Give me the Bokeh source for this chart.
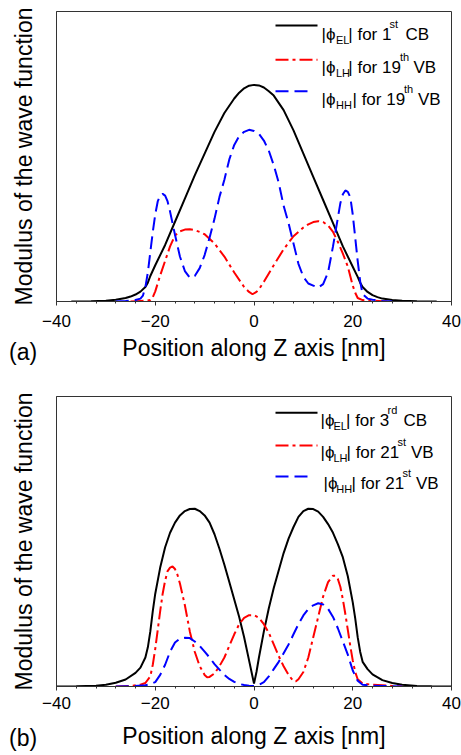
from bokeh.plotting import figure
from bokeh.models import Range1d, FixedTicker, Label, Arrow, Title
from bokeh.layouts import column
from bokeh.embed import file_html
from bokeh.resources import INLINE

# ---------------- data ----------------
x_label = "Position along Z axis [nm]"
y_label = "Modulus of the wave function"
x_ticks = [-40, -20, 0, 20, 40]
panel_tags = ["(a)", "(b)"]

# panel (a): 1st CB electron, 19th VB light/heavy hole
a_el_x = [-37, -36, -33, -30, -28, -26, -25, -24, -23, -22, -21.5, -21, -20, -18, -16, -14, -12, -10, -8, -6, -4, -3, -2, -1, 0,
          1, 2, 3, 4, 6, 8, 10, 12, 14, 16, 18, 20, 21, 21.5, 22, 23, 24, 25, 26, 28, 30, 33, 37]
a_el_y = [0, 0, 0.001, 0.003, 0.006, 0.012, 0.017, 0.024, 0.034, 0.05, 0.065, 0.088, 0.125, 0.195, 0.275, 0.355, 0.435, 0.51,
          0.585, 0.65, 0.70, 0.72, 0.735, 0.744, 0.747, 0.745, 0.738, 0.725, 0.71, 0.66, 0.59, 0.51, 0.43, 0.35, 0.27, 0.19,
          0.12, 0.085, 0.065, 0.05, 0.033, 0.022, 0.015, 0.01, 0.005, 0.003, 0.001, 0]

a_lh_x = [-25, -23, -22, -21, -20.5, -20, -19, -18, -17, -16, -15, -14, -13, -12, -11, -10, -8, -6, -4, -2, -1, -0.3, 0.5,
          1, 2, 4, 6, 8, 10, 11, 12, 13, 14, 15, 16, 17, 18, 19, 20, 20.5, 21, 22, 24, 26, 27]
a_lh_y = [0, 0.002, 0.003, 0.005, 0.015, 0.035, 0.09, 0.14, 0.19, 0.228, 0.242, 0.248, 0.249, 0.246, 0.24, 0.232, 0.2, 0.155,
          0.1, 0.05, 0.033, 0.025, 0.033, 0.042, 0.068, 0.125, 0.18, 0.225, 0.255, 0.266, 0.274, 0.277, 0.274, 0.262, 0.24,
          0.205, 0.165, 0.12, 0.055, 0.03, 0.012, 0.005, 0.003, 0.001, 0]

a_hh_x = [-28, -26, -24, -23, -22.5, -22, -21.5, -21, -20.5, -20, -19.5, -19, -18.5, -18, -17.5, -17, -16.5, -16, -15, -14,
          -13, -12, -11, -10, -9, -8, -7, -6, -5, -4, -3, -2, -1, 0, 1, 2, 3, 4, 5, 6, 7, 8, 9, 10, 11, 12, 13, 14, 15, 16,
          16.5, 17, 17.5, 18, 18.5, 19, 19.5, 20, 20.5, 21, 21.5, 22, 23, 24, 26, 28]
a_hh_y = [0, 0.002, 0.005, 0.01, 0.02, 0.05, 0.1, 0.17, 0.24, 0.3, 0.345, 0.365, 0.371, 0.365, 0.345, 0.31, 0.27, 0.23, 0.155,
          0.105, 0.082, 0.088, 0.115, 0.16, 0.22, 0.285, 0.36, 0.42, 0.49, 0.54, 0.57, 0.585, 0.592, 0.588, 0.578, 0.555,
          0.52, 0.47, 0.41, 0.33, 0.27, 0.2, 0.13, 0.085, 0.062, 0.055, 0.048, 0.06, 0.1, 0.19, 0.24, 0.29, 0.34, 0.37,
          0.383, 0.378, 0.36, 0.3, 0.22, 0.14, 0.07, 0.025, 0.01, 0.006, 0.002, 0]

# panel (b): 3rd CB electron, 21st VB light/heavy hole
b_el_x = [-40, -36, -32, -30, -28, -26, -24, -23, -22, -21.5, -21, -20.5, -20, -19, -18, -17, -16, -15, -14, -13, -12, -11,
          -10, -9, -8, -7, -6, -5, -4, -3, -2, -1, -0.5, 0, 0.5, 1, 2, 3, 4, 5, 6, 7, 8, 9, 10, 11, 12, 13, 14, 15, 16, 17,
          18, 19, 20, 20.5, 21, 21.5, 22, 23, 24, 26, 28, 30, 33, 36, 40]
b_el_y = [0, 0.001, 0.003, 0.006, 0.013, 0.024, 0.047, 0.065, 0.1, 0.135, 0.19, 0.26, 0.32, 0.41, 0.48, 0.53, 0.565, 0.59,
          0.605, 0.612, 0.613, 0.605, 0.59, 0.565, 0.525, 0.475, 0.42, 0.36, 0.3, 0.24, 0.17, 0.09, 0.05, 0.01, 0.05, 0.1,
          0.19, 0.27, 0.34, 0.40, 0.46, 0.51, 0.55, 0.585, 0.605, 0.613, 0.612, 0.603, 0.585, 0.56, 0.53, 0.49, 0.445, 0.38,
          0.29, 0.235, 0.17, 0.12, 0.085, 0.06, 0.042, 0.022, 0.012, 0.006, 0.002, 0.001, 0]

b_lh_x = [-28, -25, -23, -22, -21, -20.5, -20, -19.5, -19, -18.5, -18, -17.5, -17, -16.5, -16, -15.5, -15, -14, -13, -12,
          -11, -10, -9.5, -9, -8, -7, -6, -5, -4, -3, -2, -1, 0, 1, 2, 3, 4, 5, 6, 7, 8, 8.5, 9, 10, 11, 12, 13, 14, 15, 16,
          16.5, 17, 17.5, 18, 18.5, 19, 19.5, 20, 20.5, 21, 22, 24, 26, 28, 30]
b_lh_y = [0, 0.002, 0.006, 0.012, 0.035, 0.075, 0.13, 0.195, 0.26, 0.32, 0.365, 0.398, 0.41, 0.414, 0.405, 0.385, 0.355,
          0.28, 0.19, 0.12, 0.07, 0.04, 0.032, 0.033, 0.045, 0.07, 0.1, 0.14, 0.18, 0.215, 0.237, 0.246, 0.246, 0.237,
          0.215, 0.185, 0.145, 0.105, 0.07, 0.04, 0.018, 0.018, 0.025, 0.05, 0.1, 0.17, 0.24, 0.31, 0.36, 0.382, 0.382,
          0.37, 0.343, 0.3, 0.25, 0.195, 0.14, 0.09, 0.05, 0.025, 0.01, 0.006, 0.004, 0.002, 0]

b_hh_x = [-28, -25, -22, -21, -20, -19, -18, -17, -16, -15, -14, -13, -12, -11, -10, -9, -8, -7, -6, -5, -4, -3, -2, -1, 0,
          1, 2, 3, 4, 5, 6, 7, 8, 9, 10, 11, 12, 13, 14, 15, 16, 17, 18, 19, 20, 21, 22, 24, 26, 28, 30]
b_hh_y = [0, 0.001, 0.004, 0.008, 0.015, 0.04, 0.075, 0.12, 0.152, 0.165, 0.168, 0.167, 0.155, 0.14, 0.12, 0.1, 0.077,
          0.058, 0.04, 0.026, 0.016, 0.009, 0.005, 0.003, 0.002, 0.006, 0.015, 0.035, 0.06, 0.085, 0.115, 0.145, 0.18,
          0.215, 0.245, 0.267, 0.28, 0.287, 0.283, 0.268, 0.24, 0.2, 0.155, 0.11, 0.055, 0.02, 0.006, 0.003, 0.002, 0.001, 0]

# legend texts: [prefix, subscript, middle, superscript, suffix]
legend_a = [["|\u03d5", "EL", "| for 1", "st", "CB"],
            ["|\u03d5", "LH", "| for 19", "th", "VB"],
            ["|\u03d5", "HH", "| for 19", "th", "VB"]]
legend_b = [["|\u03d5", "EL", "| for 3", "rd", "CB"],
            ["|\u03d5", "LH", "| for 21", "st", "VB"],
            ["|\u03d5", "HH", "| for 21", "st", "VB"]]

# ---------------- styling / layout ----------------
FONT = "Liberation Sans"
STYLES = [dict(line_color="black", line_dash="solid"),
          dict(line_color="#ff0000", line_dash="13 4 3 4"),
          dict(line_color="#0000ff", line_dash="13 6")]
FRAME_LEFT = 56  # page x of frame left edge
W = 461


def make_panel(series, legend, tag, height, top, bottom, tick_standoff, label_standoff, tag_standoff,
               piece_x, base_dy, line_dy):
    p = figure(width=W, height=height, output_backend="svg", toolbar_location=None,
               x_range=Range1d(-40, 40), y_range=Range1d(0, 1),
               min_border_left=FRAME_LEFT, min_border_right=10, min_border_top=top, min_border_bottom=bottom)
    frame_h = height - top - bottom
    p.grid.visible = False
    p.outline_line_color = "#333333"
    p.outline_line_width = 1
    p.background_fill_color = "white"
    p.border_fill_color = "white"

    for (xs, ys), st in zip(series, STYLES):
        p.line(xs, ys, line_width=2, **st)

    xa = p.xaxis[0]
    xa.ticker = FixedTicker(ticks=x_ticks, minor_ticks=list(range(-40, 41, 4)))
    xa.axis_label = x_label
    xa.axis_label_text_font = FONT
    xa.axis_label_text_font_style = "normal"
    xa.axis_label_text_font_size = "23px"
    xa.axis_label_text_color = "black"
    xa.axis_label_standoff = label_standoff
    xa.major_label_text_font = FONT
    xa.major_label_text_font_size = "17px"
    xa.major_label_text_color = "black"
    xa.major_label_standoff = tick_standoff
    xa.major_tick_out = 4
    xa.major_tick_in = 0
    xa.minor_tick_out = 2
    xa.minor_tick_in = 0
    xa.axis_line_color = "#333333"
    xa.major_tick_line_color = "#333333"
    xa.minor_tick_line_color = "#333333"

    ya = p.yaxis[0]
    ya.ticker = FixedTicker(ticks=[])
    ya.axis_label = y_label
    ya.axis_label_text_font = FONT
    ya.axis_label_text_font_style = "normal"
    ya.axis_label_text_font_size = "23px"
    ya.axis_label_text_color = "black"
    ya.axis_label_standoff = 20
    ya.major_tick_out = 0
    ya.major_tick_in = 0
    ya.minor_tick_out = 0
    ya.minor_tick_in = 0
    ya.major_label_standoff = 0
    ya.axis_line_color = "#333333"

    # legend (manual, for sub/superscripts)
    offs = [0, -5, 0, 10.5, 0]
    sizes = ["17px", "11px", "17px", "11px", "17px"]
    for i, (pieces, st) in enumerate(zip(legend, STYLES)):
        ly = frame_h - line_dy[i]
        x_end = 255 if i == 2 else 261
        p.add_layout(Arrow(end=None, x_start=219, y_start=ly, x_end=x_end, y_end=ly,
                           start_units="screen", end_units="screen", line_width=2, **st))
        by = frame_h - base_dy[i]
        for j, txt in enumerate(pieces):
            p.add_layout(Label(x=piece_x[i][j] - FRAME_LEFT, y=by + offs[j],
                               x_units="screen", y_units="screen", text=txt,
                               text_font=FONT, text_font_size=sizes[j], text_color="black",
                               text_baseline="alphabetic", text_align="left"))

    # panel tag on the same row as the x axis label
    p.add_layout(Title(text=tag, align="left", vertical_align="top", offset=-47.5, standoff=tag_standoff,
                       text_font=FONT, text_font_size="23px", text_font_style="normal",
                       text_color="black"), "below")
    return p


pos_a = [[321, 335.5, 347.8, 389, 405],
         [321, 335.5, 347.8, 399.5, 413],
         [321, 335.5, 352, 403.5, 417.5]]
pos_b = [[320, 333, 345.5, 387, 403],
         [320, 333, 346, 397, 410.5],
         [323, 335.7, 351, 402, 415.5]]

p1 = make_panel([(a_el_x, a_el_y), (a_lh_x, a_lh_y), (a_hh_x, a_hh_y)], legend_a, panel_tags[0],
                height=380, top=11, bottom=79, tick_standoff=9, label_standoff=5, tag_standoff=-49,
                piece_x=pos_a, base_dy=[23, 56.3, 88.3], line_dy=[14, 48.3, 79.7])
p2 = make_panel([(b_el_x, b_el_y), (b_lh_x, b_lh_y), (b_hh_x, b_hh_y)], legend_b, panel_tags[1],
                height=375, top=16, bottom=69, tick_standoff=6, label_standoff=11, tag_standoff=-54,
                piece_x=pos_b, base_dy=[24, 56.3, 87], line_dy=[16.3, 49, 80])

layout = column(p1, p2)
open("out.html", "w").write(file_html(layout, INLINE))
